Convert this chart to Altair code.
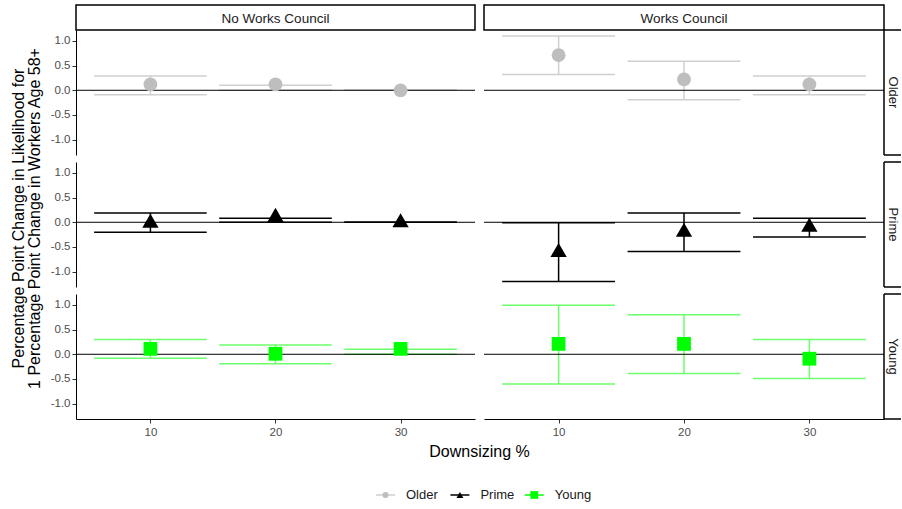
import altair as alt
import pandas as pd

FONT = "Liberation Sans"

councils = ["No Works Council", "Works Council"]
groups = ["Older", "Prime", "Young"]
downsizing = [10, 20, 30]

older_nwc_est = [0.12, 0.12, 0.00]
older_nwc_lo = [-0.09, 0.00, 0.00]
older_nwc_hi = [0.29, 0.10, 0.00]
older_wc_est = [0.71, 0.22, 0.12]
older_wc_lo = [0.32, -0.19, -0.09]
older_wc_hi = [1.10, 0.59, 0.29]

prime_nwc_est = [0.03, 0.15, 0.04]
prime_nwc_lo = [-0.20, 0.00, 0.00]
prime_nwc_hi = [0.19, 0.08, 0.00]
prime_wc_est = [-0.56, -0.15, -0.05]
prime_wc_lo = [-1.20, -0.59, -0.30]
prime_wc_hi = [-0.01, 0.19, 0.08]

young_nwc_est = [0.11, 0.01, 0.11]
young_nwc_lo = [-0.08, -0.19, 0.00]
young_nwc_hi = [0.30, 0.19, 0.10]
young_wc_est = [0.21, 0.21, -0.09]
young_wc_lo = [-0.60, -0.39, -0.49]
young_wc_hi = [0.99, 0.80, 0.30]

series = {
    ("Older", "No Works Council"): (older_nwc_est, older_nwc_lo, older_nwc_hi),
    ("Older", "Works Council"): (older_wc_est, older_wc_lo, older_wc_hi),
    ("Prime", "No Works Council"): (prime_nwc_est, prime_nwc_lo, prime_nwc_hi),
    ("Prime", "Works Council"): (prime_wc_est, prime_wc_lo, prime_wc_hi),
    ("Young", "No Works Council"): (young_nwc_est, young_nwc_lo, young_nwc_hi),
    ("Young", "Works Council"): (young_wc_est, young_wc_lo, young_wc_hi),
}

rows = []
for (g, c), (est, lo, hi) in series.items():
    for x, e, l, h in zip(downsizing, est, lo, hi):
        rows.append({"group": g, "council": c, "x": x, "est": e, "lo": l, "hi": h})
df = pd.DataFrame(rows)

# styles
W = {"No Works Council": 399, "Works Council": 400}
H = 125
STRIP = 25
RSTRIP = 17
XDOM = [4.05, 35.95]
YDOM = [-1.31, 1.22]
HALF_W = 4.5

point_color = {"Older": "#BEBEBE", "Prime": "#000000", "Young": "#00FF00"}
bar_color = {"Older": "#CFCFCF", "Prime": "#000000", "Young": "#6BFF6B"}
shape = {"Older": "circle", "Prime": "triangle-up", "Young": "square"}
size = {"Older": 190, "Prime": 265, "Young": 190}

YLABEL = "datum.value < 0 ? '-' + format(-datum.value, '.1f') : format(datum.value, '.1f')"


def make_yaxis(with_title):
    kw = dict(values=[-1, -0.5, 0, 0.5, 1], labelExpr=YLABEL, grid=False,
              domainColor="black", domainWidth=1, tickColor="#333333", tickSize=4,
              tickWidth=1, labelColor="#4D4D4D", labelFontSize=11.5, labelFont=FONT,
              labelPadding=2)
    if with_title:
        kw.update(title=["Percentage Point Change in Likelihood for",
                         "1 Percentage Point Change in Workers Age 58+"],
                  titleFont=FONT, titleFontSize=16, titleFontWeight="normal",
                  titleColor="black", titlePadding=8, titleY=56, titleLineHeight=16)
    else:
        kw.update(title=None)
    return alt.Axis(**kw)


def make_xaxis(with_title):
    kw = dict(values=downsizing, grid=False, domainColor="black", domainWidth=1,
              tickColor="#333333", tickSize=4, tickWidth=1, labelColor="#4D4D4D",
              labelFontSize=11.5, labelFont=FONT, labelPadding=3, labelFlush=False)
    if with_title:
        kw.update(title="Downsizing %", titleFont=FONT, titleFontSize=16,
                  titleFontWeight="normal", titleColor="black", titleX=403,
                  titlePadding=6)
    else:
        kw.update(title=None)
    return alt.Axis(**kw)


def panel(group, council, left, bottom, top, right):
    w = W[council]
    d = df[(df.group == group) & (df.council == council)]
    xs = alt.Scale(domain=XDOM, nice=False, zero=False)
    ys = alt.Scale(domain=YDOM, nice=False, zero=False)
    xax = make_xaxis(left) if bottom else None
    yax = make_yaxis(group == "Prime") if left else None

    base = alt.Chart(d)
    vbar = base.mark_rule(color=bar_color[group], strokeWidth=1.5).encode(
        x=alt.X("x:Q", scale=xs, axis=xax),
        y=alt.Y("lo:Q", scale=ys, axis=yax),
        y2="hi:Q",
    )
    capped = base.transform_calculate(
        xlo=f"datum.x - {HALF_W}", xhi=f"datum.x + {HALF_W}"
    )
    cap_hi = capped.mark_rule(color=bar_color[group], strokeWidth=1.5).encode(
        x=alt.X("xlo:Q", scale=xs, axis=xax), x2="xhi:Q",
        y=alt.Y("hi:Q", scale=ys, axis=yax),
    )
    cap_lo = capped.mark_rule(color=bar_color[group], strokeWidth=1.5).encode(
        x=alt.X("xlo:Q", scale=xs, axis=xax), x2="xhi:Q",
        y=alt.Y("lo:Q", scale=ys, axis=yax),
    )
    one = alt.Chart(pd.DataFrame({"council": [council], "group": [group]}))
    zero = one.mark_rule(color="black", strokeWidth=1).encode(
        y=alt.YDatum(0, scale=ys, axis=yax)
    )
    pts = base.mark_point(filled=True, opacity=1, shape=shape[group],
                          size=size[group], color=point_color[group]).encode(
        x=alt.X("x:Q", scale=xs, axis=xax),
        y=alt.Y("est:Q", scale=ys, axis=yax),
    )
    layers = [vbar, cap_hi, cap_lo, zero, pts]
    if top:
        box = one.mark_rect(fill="white", stroke="black", strokeWidth=1.5).encode(
            x=alt.value(0), x2=alt.value(w), y=alt.value(-STRIP), y2=alt.value(0)
        )
        txt = one.mark_text(font=FONT, fontSize=13.5, color="#1A1A1A",
                            baseline="middle").encode(
            x=alt.value(w / 2), y=alt.value(-STRIP / 2 + 1), text="council:N"
        )
        layers += [box, txt]
    if right:
        edge = dict(color="black", strokeWidth=1.5)
        l_edge = one.mark_rule(**edge).encode(
            x=alt.value(w), y=alt.value(0), y2=alt.value(H))
        t_edge = one.mark_rule(**edge).encode(
            x=alt.value(w), x2=alt.value(w + RSTRIP), y=alt.value(0))
        b_edge = one.mark_rule(**edge).encode(
            x=alt.value(w), x2=alt.value(w + RSTRIP), y=alt.value(H))
        rtxt = one.mark_text(font=FONT, fontSize=13, color="#1A1A1A", angle=90,
                             baseline="middle").encode(
            x=alt.value(w + RSTRIP / 2), y=alt.value(H / 2), text="group:N"
        )
        layers += [l_edge, t_edge, b_edge, rtxt]
    return alt.layer(*layers).properties(width=w, height=H)


cells = []
for g in groups:
    for c in councils:
        cells.append(panel(g, c, left=(c == councils[0]), bottom=(g == groups[-1]),
                           top=(g == groups[0]), right=(c == councils[-1])))

# manual legend (line + symbol + label)
leg_df = pd.DataFrame({"group": groups})
LEG_Y = 69
lx = alt.X("group:N", scale=alt.Scale(type="point", domain=groups,
                                      range=[309.5, 458.3], padding=0), axis=None)
leg_line = alt.Chart(leg_df).mark_tick(orient="horizontal", size=19, thickness=1.5,
                                       opacity=1).encode(
    x=lx, y=alt.value(LEG_Y),
    color=alt.Color("group:N", scale=alt.Scale(domain=groups,
                    range=[bar_color[g] if g != "Young" else "#00FF00" for g in groups]),
                    legend=None),
)
leg_pt = alt.Chart(leg_df).mark_point(filled=True, opacity=1).encode(
    x=lx, y=alt.value(LEG_Y),
    fill=alt.Fill("group:N", scale=alt.Scale(domain=groups,
                  range=[point_color[g] for g in groups]), legend=None),
    shape=alt.Shape("group:N", scale=alt.Scale(domain=groups,
                    range=[shape[g] for g in groups]), legend=None),
    size=alt.Size("group:N", scale=alt.Scale(domain=groups, range=[36, 60, 36]),
                  legend=None),
)
leg_txt = alt.Chart(leg_df).mark_text(align="left", baseline="middle", dx=20.5,
                                      fontSize=13, font=FONT, color="#1A1A1A").encode(
    x=lx, y=alt.value(LEG_Y), text="group:N"
)
legend = alt.layer(leg_line, leg_pt, leg_txt).properties(width=399, height=76)
cells.append(legend)

chart = alt.concat(
    *cells, columns=2, spacing={"row": 7, "column": 9}, bounds="flush", align="each"
).properties(
    padding={"left": 10, "top": 4, "right": 0, "bottom": 0}
).configure_view(stroke=None)

chart.save("out.html", embed_options={"renderer": "svg", "actions": False})
